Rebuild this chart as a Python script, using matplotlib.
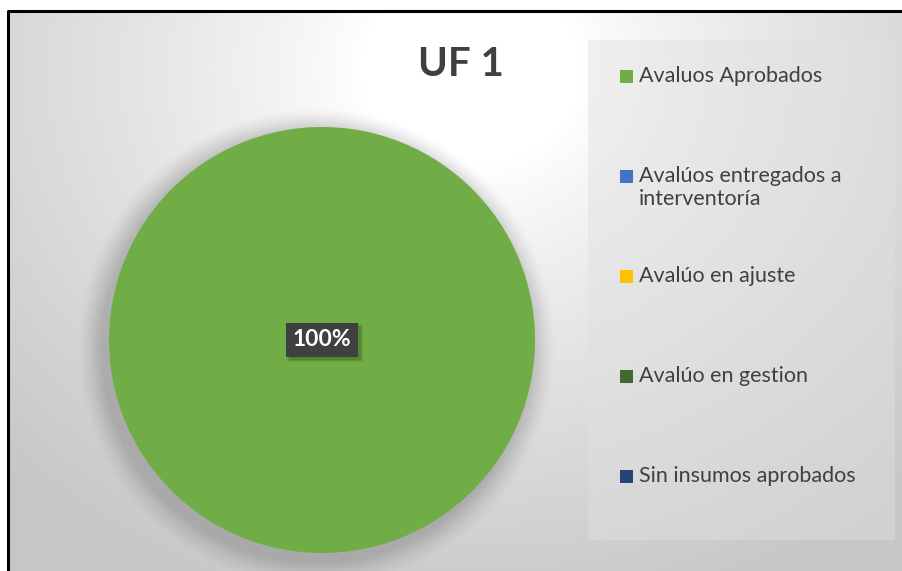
import numpy as np
import matplotlib
matplotlib.use('Agg')
import matplotlib.pyplot as plt
import matplotlib.patches as mpatches

W, H = 903, 571
TITLE   = 'UF 1'
LABELS  = ['Avaluos Aprobados', 'Avalúos entregados a\ninterventoría',
           'Avalúo en ajuste', 'Avalúo en gestion', 'Sin insumos aprobados']
VALUES  = [100, 0, 0, 0, 0]
COLORS  = ['#70AD47', '#4472C4', '#FFC000', '#43682B', '#264478']
TXT     = '#404040'

plt.rcParams['font.family'] = ['Lato', 'DejaVu Sans']

fig = plt.figure(figsize=(W / 100, H / 100), dpi=100, facecolor='white')


def px(x, y):
    # pixel coords (top-left origin) -> figure fraction
    return x / W, 1 - y / H


# background: radial grey gradient inside the frame
bg = fig.add_axes([0, 0, 1, 1], zorder=0)
bg.set_axis_off()
yy, xx = np.mgrid[0:H, 0:W]
r = np.hypot(xx - 470, (yy - 70) * 1.15)
t = np.clip((r - 110) / 540, 0, 1) ** 0.85
grey = 1 - t * (1 - 0.78)
img = np.dstack([grey, grey, grey])
img[:11, :] = 1
img[:, :8] = 1
bg.imshow(img, extent=(0, W, H, 0), aspect='auto', interpolation='bilinear')
bg.set_xlim(0, W)
bg.set_ylim(H, 0)
bg.plot([8, 8, W + 5], [H + 5, 11, 11], color='black', lw=2.2, solid_capstyle='butt')

# soft shadow below the pie
for k, a in zip(range(16, 0, -1), np.linspace(0.012, 0.06, 16)):
    bg.add_patch(mpatches.Circle((316, 348), 213 + k * 1.6, color='#8a8a8a',
                                 alpha=a, lw=0))

# pie
cx, cy, rad = 322, 340, 213
ax = fig.add_axes([(cx - rad) / W, (H - cy - rad) / H, 2 * rad / W, 2 * rad / H], zorder=2)
ax.pie(VALUES, colors=COLORS, startangle=90, counterclock=False,
       wedgeprops=dict(linewidth=0))
ax.set_xlim(-1, 1)
ax.set_ylim(-1, 1)
ax.set_axis_off()

total = sum(VALUES)
pct = f'{VALUES[0] / total * 100:.0f}%'
lbl = ax.text(0.0, 0.0, pct, ha='center', va='center', fontsize=16.5,
              fontweight='bold', color='white', zorder=4,
              bbox=dict(boxstyle='square,pad=0.3', fc='#404040', ec='none'))

# title
x, y = px(461, 64)
fig.text(x, y, TITLE, ha='center', va='center', fontsize=29, fontweight='bold',
         color=TXT, zorder=5)

# legend box + entries
lx0, ly0, lx1, ly1 = 588, 40, 895, 540
fig.patches.append(mpatches.Rectangle(px(lx0, ly1), (lx1 - lx0) / W, (ly1 - ly0) / H,
                                      transform=fig.transFigure, fc='#e0e0e0',
                                      alpha=0.45, ec='none', zorder=1))
for i, (lab, col) in enumerate(zip(LABELS, COLORS)):
    ry = 76 + i * 100
    fig.patches.append(mpatches.Rectangle(px(620, ry + 6.5), 13 / W, 13 / H,
                                          transform=fig.transFigure, fc=col,
                                          ec='none', zorder=5))
    tx, ty = px(639, ry)
    fig.text(tx, ty + 10.5 / H, lab, ha='left', va='top', fontsize=15.5, color=TXT,
             linespacing=1.22, zorder=5)

# drop shadow behind the data label box (drawn inside the pie axes, under the label)
fig.canvas.draw()
bb = lbl.get_bbox_patch().get_window_extent()
for k, a in [(4, 0.08), (3, 0.12), (2, 0.18)]:
    ax.add_patch(mpatches.Rectangle((bb.x0 + 3 - k + 2, bb.y0 - 3 - k + 2),
                                    bb.width + 2 * k - 4, bb.height + 2 * k - 4,
                                    transform=None, fc='#1e3a10', alpha=a,
                                    ec='none', zorder=3))

fig.savefig('out.png', dpi=100, facecolor='white')
